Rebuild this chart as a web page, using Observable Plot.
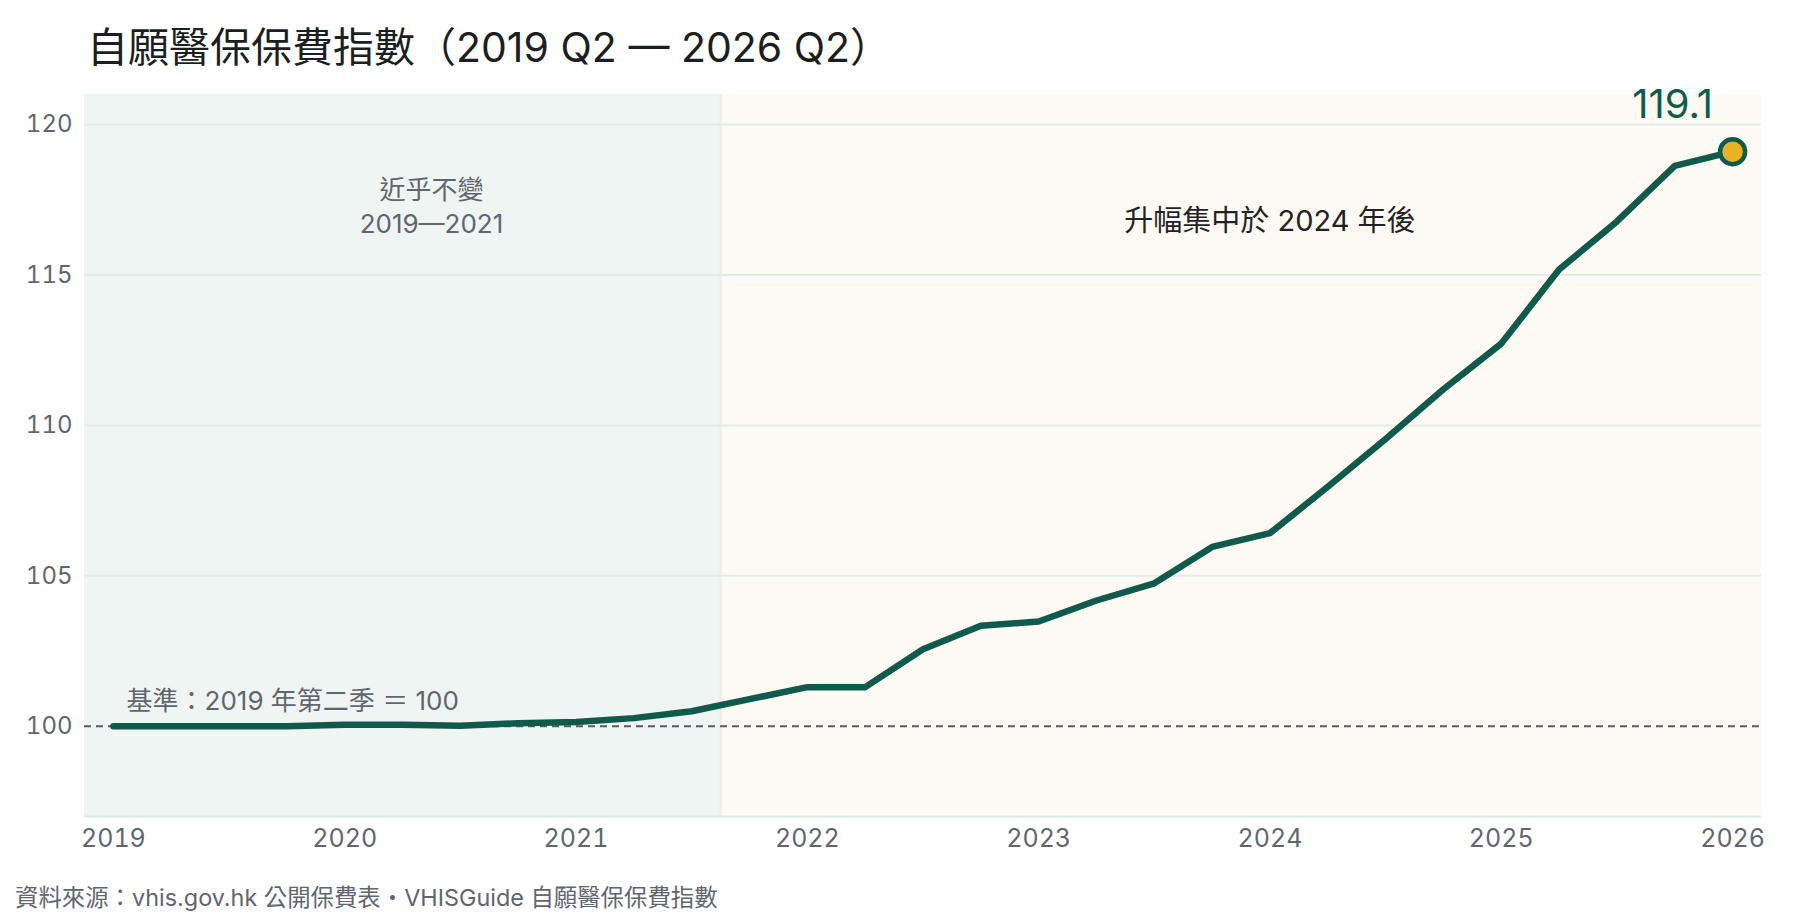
<!DOCTYPE html>
<html>
<head>
<meta charset="utf-8">
<script src="https://cdn.jsdelivr.net/npm/d3@7"></script>
<script src="https://cdn.jsdelivr.net/npm/@observablehq/plot@0.6"></script>
<style>
  html, body { margin: 0; padding: 0; background: #ffffff; }
  body { width: 1800px; height: 919px; overflow: hidden; font-family: Inter, "Noto Sans CJK TC", sans-serif; }
  #title { height: 70px; box-sizing: border-box; padding: 23px 0 0 87px; font-size: 41px; line-height: 48px; color: #1b1f22; font-weight: 400; white-space: nowrap; }
  #caption { box-sizing: border-box; padding: 13px 0 0 15px; font-size: 23.4px; line-height: 30px; color: #5f6670; white-space: nowrap; }
  svg { display: block; }
</style>
</head>
<body>
<div id="title">自願醫保保費指數（2019 Q2 — 2026 Q2）</div>
<div id="chart"></div>
<div id="caption">資料來源：vhis.gov.hk 公開保費表・VHISGuide 自願醫保保費指數</div>
<script>
const quarters = [
  "2019 Q2","2019 Q3","2019 Q4","2020 Q1","2020 Q2","2020 Q3","2020 Q4","2021 Q1",
  "2021 Q2","2021 Q3","2021 Q4","2022 Q1","2022 Q2","2022 Q3","2022 Q4","2023 Q1",
  "2023 Q2","2023 Q3","2023 Q4","2024 Q1","2024 Q2","2024 Q3","2024 Q4","2025 Q1",
  "2025 Q2","2025 Q3","2025 Q4","2026 Q1","2026 Q2"
];
const indexValues = [
  100.0, 100.0, 100.0, 100.0, 100.05, 100.05, 100.02, 100.1,
  100.14, 100.27, 100.5, 100.9, 101.3, 101.3, 102.56, 103.34,
  103.48, 104.18, 104.75, 105.96, 106.42, 107.96, 109.55, 111.2,
  112.72, 115.18, 116.78, 118.63, 119.1
];
const yearTicks = [2019, 2020, 2021, 2022, 2023, 2024, 2025, 2026];
const yTicks = [100, 105, 110, 115, 120];
const phases = [
  {label: "近乎不變\n2019—2021", start: 2018.875, end: 2021.625, fill: "#eff5f2"},
  {label: "升幅集中於 2024 年後", start: 2021.625, end: 2026.125, fill: "#fcfaf2"}
];
const baselineNote = "基準：2019 年第二季 ＝ 100";

// quarter label -> numeric time (Q2 of each year sits on the year tick)
const toT = s => { const [y, q] = s.split(" Q"); return +y + (+q - 2) / 4; };
const data = quarters.map((q, i) => ({q, t: toT(q), v: indexValues[i]}));
const last = data[data.length - 1];

const green = "#0f5a4b";
const grey = "#5f6670";

const chart = Plot.plot({
  width: 1800,
  height: 800,
  marginLeft: 84,
  marginRight: 39,
  marginTop: 24,
  marginBottom: 54,
  style: {fontFamily: 'Inter, "Noto Sans CJK TC", sans-serif', background: "transparent"},
  x: {domain: [2018.875, 2026.125], ticks: yearTicks, tickFormat: "d", label: null},
  y: {domain: [97, 121], ticks: yTicks, label: null},
  marks: [
    Plot.rectX(phases, {x1: "start", x2: "end", y1: 97, y2: 121, fill: "fill"}),
    Plot.ruleX([phases[1].start], {stroke: "#ecefe4", strokeWidth: 2}),
    Plot.ruleY(yTicks.filter(d => d !== 100), {stroke: "#e2ebe8", strokeWidth: 2}),
    Plot.ruleY([97], {stroke: "#dfe8e5", strokeWidth: 2}),
    Plot.ruleY([100], {stroke: "#555b63", strokeWidth: 2, strokeDasharray: "7,5"}),
    Plot.axisX({ticks: yearTicks, tickFormat: "d", tickSize: 0, tickPadding: 13, fontSize: 25, color: grey, label: null}),
    Plot.axisY({ticks: yTicks, tickSize: 0, tickPadding: 12, fontSize: 24, color: grey, label: null}),
    Plot.text([phases[0]], {x: 2020.375, y: 117.32, text: "label", fontSize: 26, fill: grey, lineHeight: 1.3, textAnchor: "middle"}),
    Plot.text([phases[1]], {x: 2024, y: 116.76, text: "label", fontSize: 29, fill: "#1f2326", textAnchor: "middle"}),
    Plot.text([baselineNote], {x: 2019.057, y: 100.81, text: d => d, fontSize: 26, fill: grey, textAnchor: "start"}),
    Plot.line(data, {x: "t", y: "v", stroke: green, strokeWidth: 6.5, strokeLinejoin: "round", strokeLinecap: "round"}),
    Plot.dot([last], {x: "t", y: "v", r: 12.5, fill: "#e8b424", stroke: green, strokeWidth: 4.5}),
    Plot.text([last], {x: "t", y: "v", text: d => d.v.toFixed(1), fontSize: 40, fill: green, textAnchor: "middle", dx: -60, dy: -46})
  ]
});
document.getElementById("chart").appendChild(chart);
</script>
</body>
</html>
